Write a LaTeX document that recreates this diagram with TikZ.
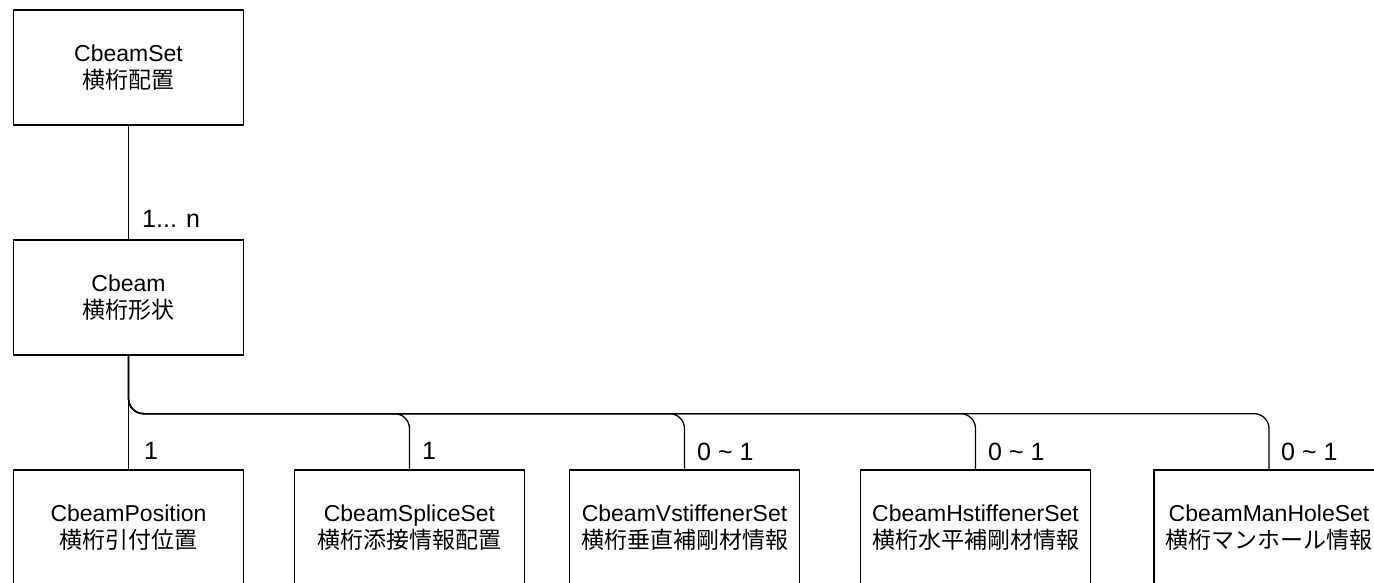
\documentclass[tikz,border=0pt]{standalone}
\usepackage{fontspec}
\setmainfont{Liberation Sans}
\newfontfamily\cjk{Noto Sans CJK JP}
\begin{document}
\begin{tikzpicture}[x=1pt,y=-1pt,
  box/.style={draw,line width=1.3pt,minimum width=230pt,minimum height=115pt,
    align=center,inner sep=0pt,font=\fontsize{23}{27}\selectfont},
  conn/.style={line width=1.3pt,rounded corners=15pt},
  mult/.style={anchor=base west,inner sep=0pt,font=\fontsize{25}{30}\selectfont}]
\fill[white] (0,0) rectangle (1374,582);
\useasboundingbox (0,0) rectangle (1374,582);
\node[box] (cbeamset) at (128.5,67.5) {CbeamSet\\{\cjk 横桁配置}};
\node[box] (cbeam) at (128.5,297.5) {Cbeam\\{\cjk 横桁形状}};
\node[box] (pos) at (128.5,527.5) {CbeamPosition\\{\cjk 横桁引付位置}};
\node[box] (splice) at (409.5,527.5) {CbeamSpliceSet\\{\cjk 横桁添接情報配置}};
\node[box] (vst) at (684.5,527.5) {CbeamVstiffenerSet\\{\cjk 横桁垂直補剛材情報}};
\node[box] (hst) at (975.5,527.5) {CbeamHstiffenerSet\\{\cjk 横桁水平補剛材情報}};
\node[box] (mh) at (1269,527.5) {CbeamManHoleSet\\{\cjk 横桁マンホール情報}};
\draw[conn] (cbeamset.south) -- (cbeam.north);
\draw[conn] (cbeam.south) -- (pos.north);
\draw[conn] (cbeam.south) -- ++(0,58) -| (splice.north);
\draw[conn] (cbeam.south) -- ++(0,58) -| (vst.north);
\draw[conn] (cbeam.south) -- ++(0,58) -| (hst.north);
\draw[conn] (cbeam.south) -- ++(0,58) -| (mh.north);
\node[mult] (m0) at (142,227) {1... n};
\node[mult] (m1) at (144,459) {1};
\node[mult] (m2) at (422,459) {1};
\node[mult] (m3) at (697,460) {0 \char"7E\ 1};
\node[mult] (m4) at (988,460) {0 \char"7E\ 1};
\node[mult] (m5) at (1281,460) {0 \char"7E\ 1};
\end{tikzpicture}
\end{document}
